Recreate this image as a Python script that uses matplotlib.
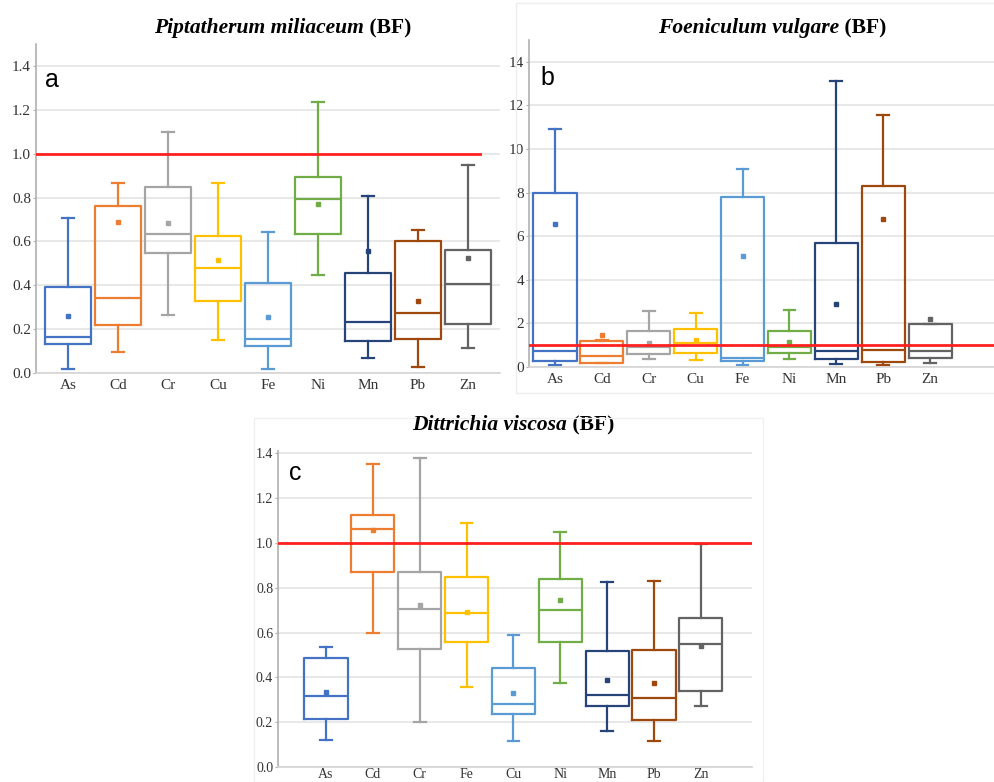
import matplotlib.pyplot as plt
from matplotlib.patches import Rectangle

plt.rcParams["font.family"] = ["Liberation Serif", "DejaVu Serif"]

# 元素ラベル（cパネルはCuとFeの順番が入れ替わっている）
labels_ab = ["As", "Cd", "Cr", "Cu", "Fe", "Ni", "Mn", "Pb", "Zn"]
labels_c = ["As", "Cd", "Cr", "Fe", "Cu", "Ni", "Mn", "Pb", "Zn"]
box_colors = ["#4472C4", "#ED7D31", "#A5A5A5", "#FFC000", "#5B9BD5",
              "#70AD47", "#264478", "#9E480E", "#636363"]

# a: Piptatherum miliaceum
a_lo = [0.017, 0.096, 0.263, 0.149, 0.020, 0.446, 0.068, 0.027, 0.116]
a_q1 = [0.134, 0.218, 0.548, 0.327, 0.123, 0.632, 0.146, 0.157, 0.222]
a_med = [0.164, 0.344, 0.632, 0.479, 0.154, 0.793, 0.231, 0.274, 0.405]
a_q3 = [0.390, 0.763, 0.849, 0.624, 0.411, 0.895, 0.458, 0.601, 0.563]
a_hi = [0.705, 0.866, 1.099, 0.868, 0.644, 1.234, 0.808, 0.651, 0.948]
a_mean = [0.259, 0.690, 0.682, 0.517, 0.256, 0.770, 0.557, 0.327, 0.525]

# b: Foeniculum vulgare
b_lo = [0.08, 0.18, 0.35, 0.34, 0.08, 0.38, 0.12, 0.08, 0.20]
b_q1 = [0.26, 0.18, 0.58, 0.66, 0.26, 0.64, 0.38, 0.23, 0.43]
b_med = [0.72, 0.49, 0.92, 1.12, 0.41, 0.92, 0.73, 0.80, 0.73]
b_q3 = [7.96, 1.18, 1.64, 1.73, 7.80, 1.65, 5.71, 8.29, 1.99]
b_hi = [10.94, 1.25, 2.57, 2.48, 9.06, 2.60, 13.13, 11.58, 1.99]
b_mean = [6.58, 1.48, 1.10, 1.25, 5.10, 1.15, 2.88, 6.78, 2.22]

# c: Dittrichia viscosa
c_lo = [0.122, 0.597, 0.202, 0.359, 0.117, 0.377, 0.161, 0.117, 0.274]
c_q1 = [0.213, 0.868, 0.525, 0.557, 0.238, 0.557, 0.271, 0.208, 0.337]
c_med = [0.315, 1.063, 0.707, 0.685, 0.283, 0.702, 0.320, 0.308, 0.547]
c_q3 = [0.487, 1.125, 0.872, 0.846, 0.440, 0.840, 0.518, 0.521, 0.664]
c_hi = [0.535, 1.353, 1.378, 1.089, 0.587, 1.048, 0.824, 0.828, 0.997]
c_mean = [0.334, 1.056, 0.724, 0.692, 0.331, 0.745, 0.386, 0.374, 0.540]

W, H = 995, 782
fig = plt.figure(figsize=(W / 100, H / 100), dpi=100)


def px_axes(left, right, top, bottom):
    # ピクセル座標から軸を作る
    return fig.add_axes([left / W, 1 - bottom / H, (right - left) / W, (bottom - top) / H])


def draw_panel(ax, labels, lo, q1, med, q3, hi, mean, ylim, yticks, xlim, fmt, red_xmax, fs=11):
    stats = []
    for i in range(len(labels)):
        stats.append(dict(whislo=lo[i], q1=q1[i], med=med[i], q3=q3[i],
                          whishi=hi[i], mean=mean[i], fliers=[]))
    pos = list(range(1, len(labels) + 1))
    art = ax.bxp(stats, positions=pos, widths=0.92, capwidths=0.25,
                 showmeans=True, showfliers=False, patch_artist=False)
    for i, c in enumerate(box_colors):
        art["boxes"][i].set(color=c, linewidth=1.6)
        art["medians"][i].set(color=c, linewidth=1.6)
        for w in art["whiskers"][2 * i:2 * i + 2]:
            w.set(color=c, linewidth=1.6)
        for cp in art["caps"][2 * i:2 * i + 2]:
            cp.set(color=c, linewidth=1.6)
        art["means"][i].set(marker="s", markersize=3.2, markerfacecolor=c,
                            markeredgecolor=c)
    ax.axhline(1.0, xmin=0, xmax=red_xmax, color="#FF2020", linewidth=2.0, zorder=5)
    ax.set_ylim(*ylim)
    ax.set_xlim(*xlim)
    ax.set_yticks(yticks)
    ax.set_yticklabels([fmt.format(v) for v in yticks])
    ax.set_xticks(pos)
    ax.set_xticklabels(labels)
    ax.grid(True, axis="y", color="#e4e4e4", linewidth=1.2)
    ax.set_axisbelow(True)
    for s in ["top", "right"]:
        ax.spines[s].set_visible(False)
    ax.spines["left"].set_color("#b0b0b0")
    ax.spines["bottom"].set_color("#d4d4d4")
    ax.spines["left"].set_linewidth(1.2)
    ax.spines["bottom"].set_linewidth(1.2)
    ax.tick_params(axis="y", length=2.5, width=0.8, color="#b0b0b0", pad=1,
                   labelsize=fs, labelcolor="#333333")
    ax.tick_params(axis="x", length=0, pad=4, labelsize=fs, labelcolor="#333333")
    ax.patch.set_alpha(0)


# パネル枠（うっすら）
fig.patches.append(Rectangle((516 / W, 1 - 393 / H), 479 / W, 390 / H, transform=fig.transFigure,
                             fill=False, edgecolor="#eeeeee", linewidth=1.0))
fig.patches.append(Rectangle((254 / W, 0), 509 / W, 1 - 418 / H, transform=fig.transFigure,
                             fill=False, edgecolor="#f0f0f0", linewidth=1.0))

ax_a = px_axes(36, 500, 44, 373)
draw_panel(ax_a, labels_ab, a_lo, a_q1, a_med, a_q3, a_hi, a_mean,
           (0, 1.5), [0.0, 0.2, 0.4, 0.6, 0.8, 1.0, 1.2, 1.4], (0.36, 9.64), "{:.1f}", 0.957)

ax_b = px_axes(529, 995, 40, 367)
draw_panel(ax_b, labels_ab, b_lo, b_q1, b_med, b_q3, b_hi, b_mean,
           (0, 15), [0, 2, 4, 6, 8, 10, 12, 14], (0.445, 10.385), "{:.0f}", 1.0)

ax_c = px_axes(278, 752, 451, 767)
draw_panel(ax_c, labels_c, c_lo, c_q1, c_med, c_q3, c_hi, c_mean,
           (0, 1.41), [0.0, 0.2, 0.4, 0.6, 0.8, 1.0, 1.2, 1.4], (-0.024, 10.09), "{:.1f}", 1.0,
           fs=10)
ax_c.tick_params(axis="x", pad=1)

# タイトル（種名は太字イタリック、(BF)は太字）
titles = [("Piptatherum miliaceum", 154, 33),
          ("Foeniculum vulgare", 658, 33),
          ("Dittrichia viscosa", 412, 430)]
for name, x, y in titles:
    t = fig.text(x / W, 1 - y / H, name, fontsize=15.5, fontweight="bold", style="italic",
                 ha="left", va="baseline")
    ax_a.annotate(" (BF)", xy=(1, 0), xycoords=t, fontsize=15.5, fontweight="bold",
                  ha="left", va="bottom", annotation_clip=False)

# パネル記号
for letter, x, y in [("a", 52, 80), ("b", 547, 78), ("c", 295, 473)]:
    fig.text(x / W, 1 - y / H, letter, fontsize=18, family="Liberation Sans",
             ha="center", va="center")

plt.savefig("out.png", dpi=100)
